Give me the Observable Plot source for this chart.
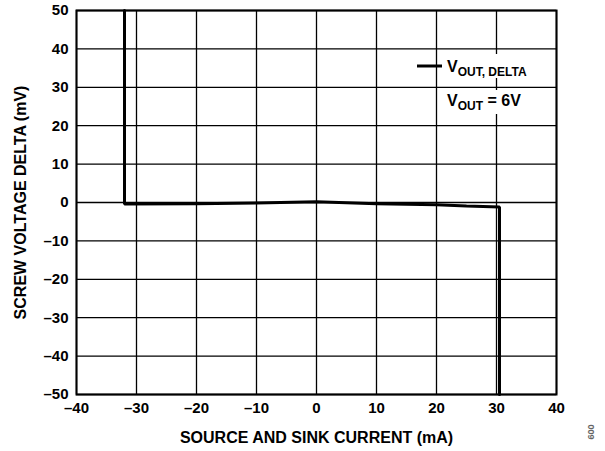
<!DOCTYPE html>
<html><head><meta charset="utf-8">
<script src="https://cdn.jsdelivr.net/npm/d3@7"></script>
<script src="https://cdn.jsdelivr.net/npm/@observablehq/plot@0.6"></script>
<style>
body{margin:0;background:#fff;}
#chart{position:relative;width:605px;height:451px;}
svg{font-family:"Liberation Sans",Arial,sans-serif;}
</style></head><body><div id="chart"></div>
<script>
const currentMA = [-32, -32, -20, -10, 0, 10, 20, 25, 30.5, 30.5];
const deltaMV   = [50, -0.4, -0.3, -0.1, 0.2, -0.3, -0.6, -0.9, -1.2, -50];
const xTicks = [-40, -30, -20, -10, 0, 10, 20, 30, 40];
const yTicks = [-50, -40, -30, -20, -10, 0, 10, 20, 30, 40, 50];
const data = currentMA.map((x, i) => ({x, y: deltaMV[i]}));
const fmt = d => d < 0 ? "\u2013" + (-d) : String(d);

const chart = Plot.plot({
  width: 605, height: 451,
  marginLeft: 76, marginRight: 49, marginTop: 10, marginBottom: 57,
  style: {fontFamily: "Liberation Sans, Arial, sans-serif", fontSize: "15px", fontWeight: "bold", color: "#000", background: "#fff"},
  x: {domain: [-40, 40], ticks: xTicks, tickFormat: fmt, tickSize: 0, tickPadding: 8,
      label: "SOURCE AND SINK CURRENT (mA)", labelAnchor: "center", labelArrow: "none", labelOffset: 48},
  y: {domain: [-50, 50], ticks: yTicks, tickFormat: fmt, tickSize: 0, tickPadding: 8,
      label: "SCREW VOLTAGE DELTA (mV)", labelAnchor: "center", labelArrow: "none", labelOffset: 62},
  marks: [
    Plot.gridX(xTicks, {stroke: "#000", strokeOpacity: 1, strokeWidth: 1.3}),
    Plot.gridY(yTicks, {stroke: "#000", strokeOpacity: 1, strokeWidth: 1.3}),
    Plot.frame({stroke: "#000", strokeWidth: 2}),
    Plot.line(data, {x: "x", y: "y", stroke: "#000", strokeWidth: 3, strokeLinejoin: "miter"})
  ]
});
document.getElementById("chart").appendChild(chart);
// axis labels slightly larger
d3.select(chart).selectAll("[aria-label='x-axis label'] text, [aria-label='y-axis label'] text").attr("font-size", 16);

const svg = d3.select(chart);
const g = svg.append("g").attr("font-family", "Liberation Sans, Arial, sans-serif").attr("font-weight", "bold")
  .attr("fill", "#000").attr("text-anchor", "start");
g.append("line").attr("x1", 417).attr("x2", 442).attr("y1", 66).attr("y2", 66).attr("stroke", "#000").attr("stroke-width", 3);
g.append("rect").attr("x", 446).attr("y", 54).attr("width", 104).attr("height", 24).attr("fill", "#fff");
g.append("rect").attr("x", 446).attr("y", 90).attr("width", 80).attr("height", 24).attr("fill", "#fff");
const t1 = g.append("text").attr("x", 447).attr("y", 72).attr("font-size", 16);
t1.append("tspan").text("V");
t1.append("tspan").attr("font-size", 12).attr("dy", 4).text("OUT, DELTA");
const t2 = g.append("text").attr("x", 447).attr("y", 106).attr("font-size", 16);
t2.append("tspan").text("V");
t2.append("tspan").attr("font-size", 12).attr("dy", 4).text("OUT");
t2.append("tspan").attr("dy", -4).text(" = 6V");
svg.append("text").attr("transform", "translate(588,432) rotate(90)").attr("font-size", 9)
  .attr("fill", "#666").attr("font-family", "Liberation Sans, Arial, sans-serif").attr("text-anchor", "middle").text("009");
</script></body></html>
